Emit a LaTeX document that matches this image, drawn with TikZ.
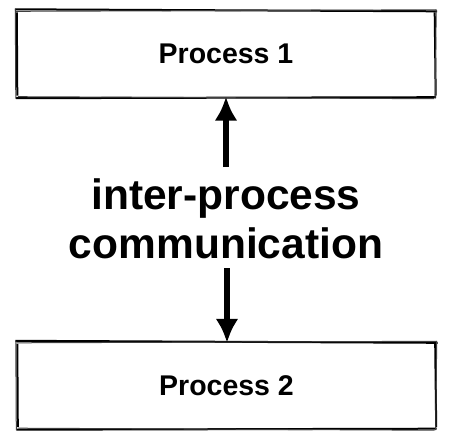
\documentclass[tikz,border=0pt]{standalone}
\usepackage{fontspec}
\setmainfont{Liberation Sans}
\usetikzlibrary{arrows.meta,calc}
\newcommand{\skbox}[1]{%
  \draw[skline] ($(#1.north west)+(-2,-1)$) -- ($(#1.north east)+(2,1)$);
  \draw[skthin] ($(#1.north west)+(-1,1)$) -- ($(#1.north east)+(1,-0.5)$);
  \draw[skline] ($(#1.south west)+(-1,0.5)$) -- ($(#1.south east)+(1,-0.5)$);
  \draw[skthin] ($(#1.south west)+(1,-1)$) -- ($(#1.south east)+(-1,1)$);
  \draw[skline] ($(#1.north west)+(0,2)$) -- ($(#1.south west)+(0.5,-2)$);
  \draw[skthin] ($(#1.north west)+(-1.5,-1)$) -- ($(#1.south west)+(-1,1)$);
  \draw[skline] ($(#1.north east)+(-0.5,2)$) -- ($(#1.south east)+(0.5,-2)$);
  \draw[skthin] ($(#1.north east)+(1,-1)$) -- ($(#1.south east)+(0,1)$);
}
\begin{document}
\begin{tikzpicture}[x=1pt,y=-1pt,
  boxnode/.style={minimum width=418pt,minimum height=87pt,inner sep=0pt,font=\bfseries\fontsize{28.5}{32}\selectfont},
  skline/.style={line width=2pt,black},
  skthin/.style={line width=1pt,black!75},
  arr/.style={line width=6pt,-{Latex[length=24pt,width=23pt]},shorten >=-1pt},
  lbl/.style={font=\bfseries\fontsize{42.5}{49}\selectfont,align=center,inner sep=0pt}]
\useasboundingbox (0,0) rectangle (456,445);
\node[boxnode] (p1) at (226,54) {Process 1};
\node[boxnode] (p2) at (226.5,385.5) {Process 2};
\skbox{p1}
\skbox{p2}
\node[lbl] (ipc) at (226,219) {inter-process\\communication};
\coordinate (u) at (226,167);
\coordinate (d) at (227,268);
\draw[arr] (u) -- (u |- p1.south);
\draw[arr] (d) -- (d |- p2.north);
\end{tikzpicture}
\end{document}
